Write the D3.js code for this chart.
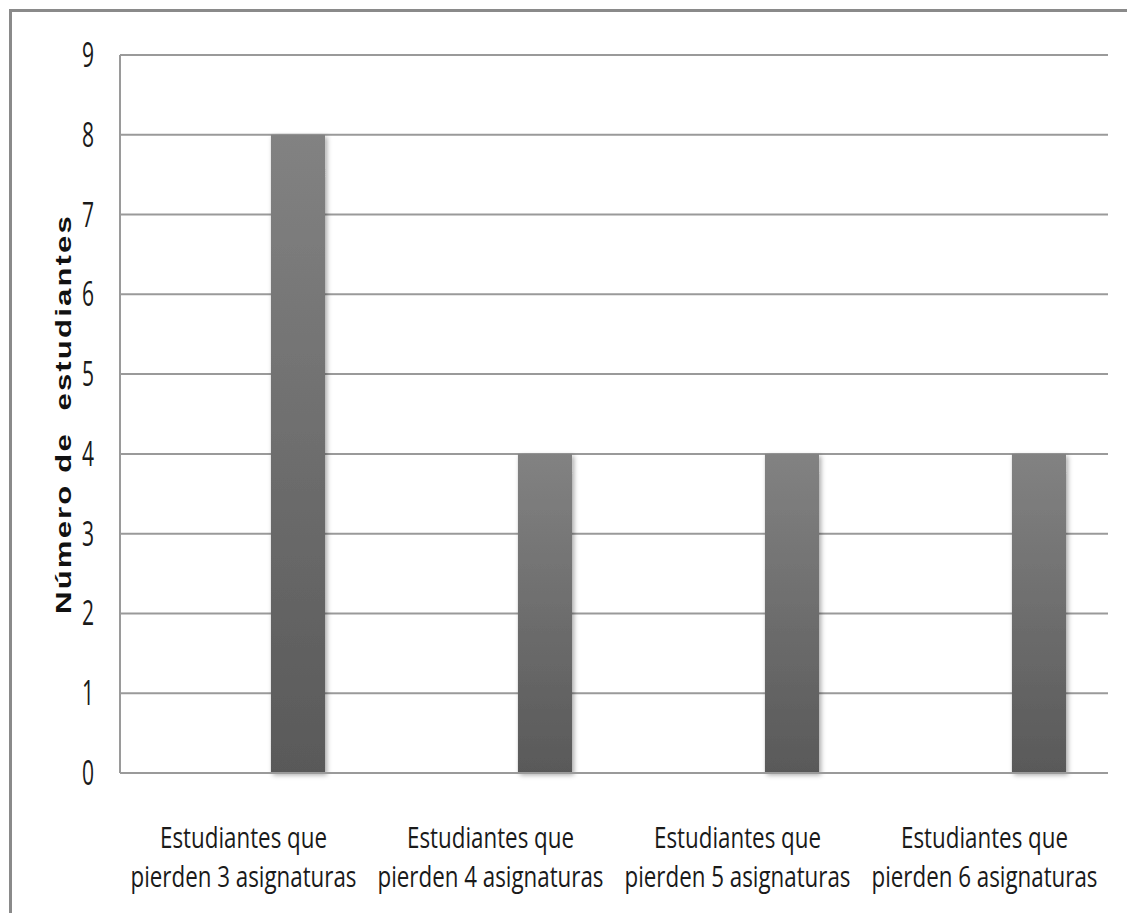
<!DOCTYPE html>
<html>
<head>
<meta charset="utf-8">
<script src="https://cdn.jsdelivr.net/npm/d3@7"></script>
<style>
  html, body { margin: 0; padding: 0; background: #fff; }
  svg { display: block; }
</style>
</head>
<body>
<script>
// Students failing subjects
const categories = [
  ["Estudiantes que", "pierden 3 asignaturas"],
  ["Estudiantes que", "pierden 4 asignaturas"],
  ["Estudiantes que", "pierden 5 asignaturas"],
  ["Estudiantes que", "pierden 6 asignaturas"]
];
const values = [8, 4, 4, 4];
const yTicks = [0, 1, 2, 3, 4, 5, 6, 7, 8, 9];
const yTitle = "Número de  estudiantes";

const W = 1127, H = 913;
const plot = { left: 120, right: 1108, top: 55, bottom: 773 };

const svg = d3.select("body").append("svg").attr("width", W).attr("height", H);

const defs = svg.append("defs");
const grad = defs.append("linearGradient").attr("id", "barGrad")
  .attr("x1", 0).attr("y1", 0).attr("x2", 0).attr("y2", 1);
grad.append("stop").attr("offset", "0%").attr("stop-color", "#828282");
grad.append("stop").attr("offset", "100%").attr("stop-color", "#595959");
const shadow = defs.append("filter").attr("id", "barShadow")
  .attr("x", "-30%").attr("y", "-5%").attr("width", "160%").attr("height", "115%");
shadow.append("feDropShadow").attr("dx", 2).attr("dy", 2).attr("stdDeviation", 2.5)
  .attr("flood-color", "#000").attr("flood-opacity", 0.35);

// outer frame (top and left edges)
svg.append("rect").attr("x", 10.5).attr("y", 10.5).attr("width", W + 20).attr("height", H + 20)
  .attr("fill", "none").attr("stroke", "#8a8a8a").attr("stroke-width", 3);

const x = d3.scaleBand().domain(d3.range(categories.length))
  .range([plot.left, plot.right]).padding(0);
const y = d3.scaleLinear().domain([0, 9]).range([plot.bottom, plot.top]);

// horizontal gridlines
svg.append("g").selectAll("line").data(yTicks.filter(d => d > 0)).join("line")
  .attr("x1", plot.left).attr("x2", plot.right)
  .attr("y1", d => y(d)).attr("y2", d => y(d))
  .attr("stroke", "#9a9a9a").attr("stroke-width", 2);

// bars, drawn in the right part of each category slot
const bw = x.bandwidth();
svg.append("g").selectAll("rect").data(values).join("rect")
  .attr("x", (d, i) => x(i) + bw * 0.611)
  .attr("width", bw * 0.219)
  .attr("y", d => y(d))
  .attr("height", d => y(0) - y(d))
  .attr("fill", "url(#barGrad)")
  .attr("filter", "url(#barShadow)");

// axes lines
svg.append("line").attr("x1", plot.left).attr("x2", plot.left)
  .attr("y1", plot.top).attr("y2", plot.bottom)
  .attr("stroke", "#9a9a9a").attr("stroke-width", 2);
svg.append("line").attr("x1", plot.left).attr("x2", plot.right)
  .attr("y1", plot.bottom).attr("y2", plot.bottom)
  .attr("stroke", "#9a9a9a").attr("stroke-width", 2);

// y tick labels (narrow face)
svg.append("g").selectAll("text").data(yTicks).join("text")
  .attr("transform", d => `translate(94,${y(d) + 12}) scale(0.62,1)`)
  .attr("text-anchor", "end")
  .attr("font-family", "'Open Sans', sans-serif")
  .attr("font-size", 34)
  .attr("fill", "#1a1a1a")
  .text(d => d);

// category labels, two lines each
const cat = svg.append("g").selectAll("g").data(categories).join("g");
cat.each(function(lines, i) {
  const cx = x(i) + bw / 2;
  lines.forEach((ln, k) => {
    d3.select(this).append("text")
      .attr("transform", `translate(${cx},${848 + k * 39}) scale(0.77,1)`)
      .attr("text-anchor", "middle")
      .attr("font-family", "'Open Sans', sans-serif")
      .attr("font-size", 29)
      .attr("fill", "#1a1a1a")
      .text(ln);
  });
});

// y axis title, stretched along its direction to span most of the axis
const titleSpan = 400;
const title = svg.append("text")
  .attr("text-anchor", "middle")
  .attr("font-family", "'Liberation Sans', Arial, sans-serif")
  .attr("font-weight", "bold")
  .attr("font-size", 22)
  .attr("letter-spacing", 1.5)
  .attr("xml:space", "preserve")
  .style("white-space", "pre")
  .attr("fill", "#111")
  .text(yTitle);
const natural = title.node().getComputedTextLength();
title.attr("transform",
  `translate(71,${(plot.top + plot.bottom) / 2}) rotate(-90) scale(${titleSpan / natural},1)`);
</script>
</body>
</html>
